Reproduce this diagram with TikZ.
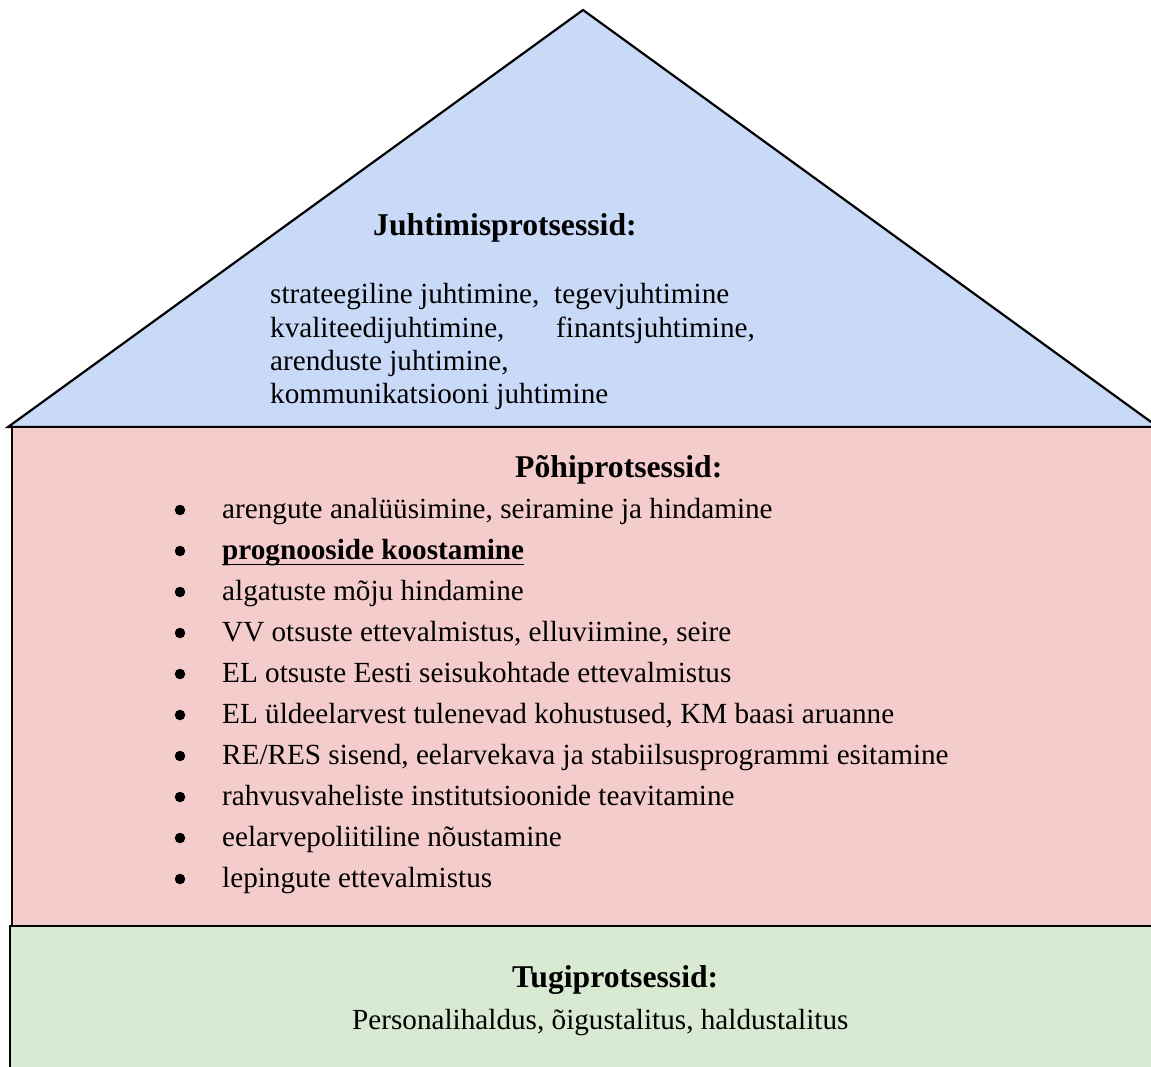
\documentclass[tikz,border=0pt]{standalone}
\usepackage{fontspec}
\setmainfont{Liberation Serif}
\definecolor{roofblue}{HTML}{C9DAF8}
\definecolor{wallred}{HTML}{F4CCCC}
\definecolor{basegreen}{HTML}{D9EAD3}
\tikzset{
  part/.style={draw=black, line width=2.2bp},
  txt/.style={anchor=base west, inner sep=0pt, font=\fontsize{29.3}{33}\selectfont},
  head/.style={anchor=base west, inner sep=0pt, font=\fontsize{31.8}{36}\selectfont\bfseries},
  dot/.style={circle, fill=black, inner sep=0pt, minimum size=10.5bp},
}
\begin{document}
\begin{tikzpicture}[x=1bp, y=-1bp]
\useasboundingbox (0,0) rectangle (1151,1067);
\clip (0,0) rectangle (1151,1067);

% roof: management processes
\coordinate (apex) at (583,10);
\coordinate (eaveL) at (8,427);
\coordinate (eaveR) at (1158,427);
\filldraw[part, fill=roofblue, line join=miter] (eaveL) -- (apex) -- (eaveR) -- cycle;

% walls: core processes
\filldraw[part, fill=wallred] (12,427) rectangle (1170,926);

% foundation: support processes
\filldraw[part, fill=basegreen] (10,926) rectangle (1170,1090);

% roof texts
\node[head] (mgmt) at (373,235) {Juhtimisprotsessid:};
\node[txt] (m1) at (270,303) {strateegiline juhtimine,};
\node[txt] (m2) at (554,303) {tegevjuhtimine};
\node[txt] (m3) at (270,337) {kvaliteedijuhtimine,};
\node[txt] (m4) at (556,337) {finantsjuhtimine,};
\node[txt] (m5) at (270,370) {arenduste juhtimine,};
\node[txt] (m6) at (270,403) {kommunikatsiooni juhtimine};

% core process list
\node[head] (core) at (515,477) {Põhiprotsessid:};
\foreach \i/\t in {
  0/{arengute analüüsimine, seiramine ja hindamine},
  2/{algatuste mõju hindamine},
  3/{VV otsuste ettevalmistus, elluviimine, seire},
  4/{EL otsuste Eesti seisukohtade ettevalmistus},
  5/{EL üldeelarvest tulenevad kohustused, KM baasi aruanne},
  6/{RE/RES sisend, eelarvekava ja stabiilsusprogrammi esitamine},
  7/{rahvusvaheliste institutsioonide teavitamine},
  8/{eelarvepoliitiline nõustamine},
  9/{lepingute ettevalmistus}}{
  \node[txt] (c\i) at (222,518+41*\i) {\t};
}
\node[txt, font=\fontsize{29.3}{33}\selectfont\bfseries] (c1) at (222,559) {prognooside koostamine};
\draw[line width=1.8bp] ([yshift=-5.5bp]c1.base west) -- ([yshift=-5.5bp]c1.base east);
\foreach \i in {0,...,9}{
  \node[dot] (b\i) at (180,510+41*\i) {};
}

% foundation texts
\node[head] (supp) at (512,987) {Tugiprotsessid:};
\node[txt] (s1) at (352,1029) {Personalihaldus, õigustalitus, haldustalitus};
\end{tikzpicture}
\end{document}
